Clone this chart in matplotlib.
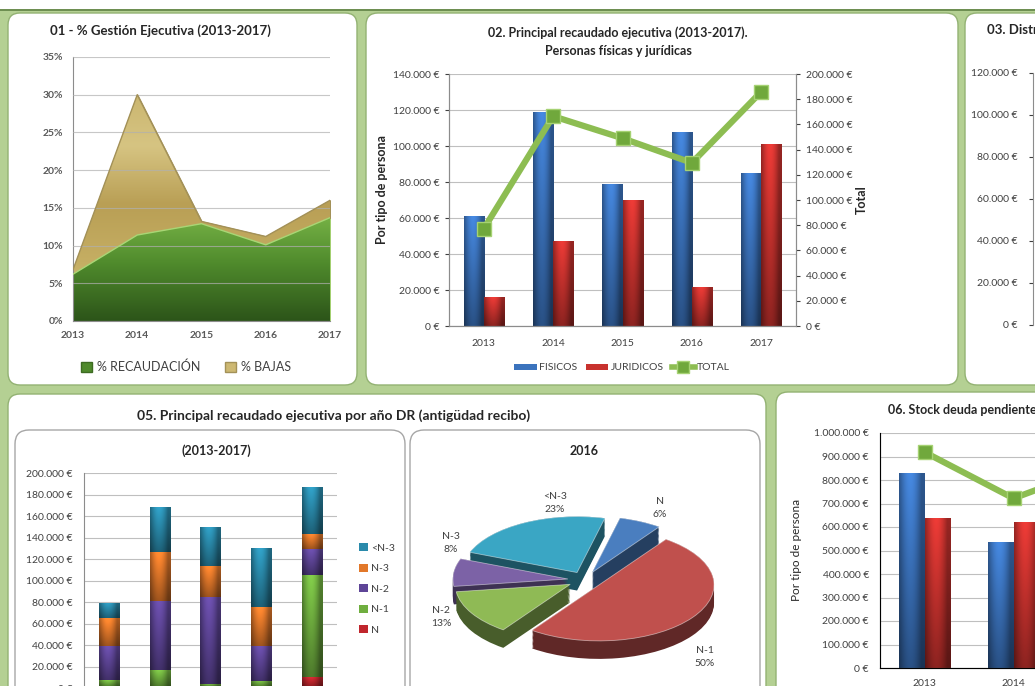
import numpy as np
import matplotlib
matplotlib.use("Agg")
import matplotlib.pyplot as plt
import matplotlib.colors as mcolors
from matplotlib.patches import FancyBboxPatch, Rectangle, Patch
from matplotlib.lines import Line2D
from matplotlib.transforms import IdentityTransform

plt.rcParams['font.family'] = ['Lato', 'DejaVu Sans']

# ---------------- data ----------------
years = ['2013', '2014', '2015', '2016', '2017']

# 01 - % Gestión Ejecutiva
pct_recaudacion = [6.2, 11.4, 12.9, 10.1, 13.7]
pct_bajas = [0.6, 18.6, 0.3, 1.1, 2.3]

# 02 - Principal recaudado ejecutiva
fisicos = [61000, 119000, 79000, 108000, 85000]
juridicos = [16000, 47500, 70000, 21500, 101000]
total02 = [77000, 166500, 149000, 129500, 186000]

# 05 - Principal recaudado por año DR (stacked)
stack_labels = ['N', 'N-1', 'N-2', 'N-3', '<N-3']
stack_N = [1000, 1000, 500, 500, 10300]
stack_N1 = [6500, 15500, 3600, 6000, 94700]
stack_N2 = [31400, 64700, 80200, 32400, 24000]
stack_N3 = [25800, 45700, 29200, 36700, 14400]
stack_lt3 = [14000, 41400, 36700, 54400, 43600]

# 05 - pie 2016
pie_labels = ['N', 'N-1', 'N-2', 'N-3', '<N-3']
pie_vals = [6, 50, 13, 8, 23]

# 06 - Stock deuda pendiente (visible part)
years06 = ['2013', '2014', '2015']
fisicos06 = [830000, 535000]
juridicos06 = [640000, 620000]
total06 = [1470000, 1155000, 1380000]

# ---------------- layout helpers ----------------
W, H = 1035, 686
fig = plt.figure(figsize=(W / 100, H / 100), dpi=100)
fig.patch.set_facecolor('#b4d093')


def axpx(x0, y0, x1, y1):
    return fig.add_axes([x0 / W, 1 - y1 / H, (x1 - x0) / W, (y1 - y0) / H])


def panel(x0, y0, x1, y1, fc='white', ec='#93b273', lw=1.0, r=12, z=0):
    p = FancyBboxPatch((x0, H - y1), x1 - x0, y1 - y0,
                       boxstyle=f"round,pad=0,rounding_size={r}",
                       transform=IdentityTransform(), fc=fc, ec=ec, lw=lw, zorder=z)
    fig.add_artist(p)


def ftext(x, y, s, **kw):
    return fig.text(x / W, 1 - y / H, s, **kw)


def eur(v):
    return f"{v:,.0f} €".replace(',', '.')


TXT = '#404040'


def shade_bar(ax, rect, color, z=2):
    x0, y0 = rect.get_x(), rect.get_y()
    w, h = rect.get_width(), rect.get_height()
    if h <= 0:
        return
    base = np.array(mcolors.to_rgb(color))
    xs = np.linspace(0, 1, 40)
    hprof = 0.72 + 0.42 * np.sin(np.pi * np.clip(xs * 1.15, 0, 1))
    vprof = np.linspace(0.62, 1.05, 64)
    img = base[None, None, :] * vprof[:, None, None] * hprof[None, :, None]
    img = np.clip(img, 0, 1)
    im = ax.imshow(img, extent=(x0, x0 + w, y0, y0 + h), origin='lower',
                   aspect='auto', zorder=z, interpolation='bilinear')
    im.set_clip_path(rect)


def style_axes(ax, color='#8c8c8c'):
    for s in ax.spines.values():
        s.set_color(color)
        s.set_linewidth(0.8)


# ---------------- background / panels ----------------
fig.add_artist(Rectangle((0, H - 9), W, 9, transform=IdentityTransform(), fc='white', ec='none'))
fig.add_artist(Rectangle((0, H - 10.5), W, 1.5, transform=IdentityTransform(), fc='#6e8f52', ec='none'))

panel(8, 13, 357, 385)
panel(366, 13, 958, 385)
panel(965, 13, 1060, 385)
panel(8, 394, 766, 710)
panel(776, 392, 1060, 710)
panel(15, 430, 405, 710, ec='#a6a6a6', r=14, z=1)
panel(410, 430, 760, 710, ec='#a6a6a6', r=14, z=1)

# ---------------- 01 area chart ----------------
ax1 = axpx(73, 57, 330, 321)
x = np.arange(len(years))
rec = np.array(pct_recaudacion)
baj = np.array(pct_bajas)
c_rec = ax1.fill_between(x, 0, rec, fc='#5f9d35', ec='#a3d070', lw=1.0, zorder=2)
c_baj = ax1.fill_between(x, rec, rec + baj, fc='#cdb872', ec='#a39158', lw=1.0, zorder=2)

cm_g = mcolors.LinearSegmentedColormap.from_list('g', ['#2c5419', '#4f8a2c', '#7db94a'])
cm_t = mcolors.LinearSegmentedColormap.from_list('t', ['#d9ca8e', '#c5ae63', '#b99f55', '#d6c482', '#c9b46d'])
g = np.linspace(0, 1, 256).reshape(-1, 1)
im = ax1.imshow(g, cmap=cm_g, extent=(0, 4, 0, 15), origin='lower', aspect='auto', zorder=2.1)
im.set_clip_path(c_rec.get_paths()[0], ax1.transData)
im = ax1.imshow(g, cmap=cm_t, extent=(0, 4, 0, 31), origin='lower', aspect='auto', zorder=2.1)
im.set_clip_path(c_baj.get_paths()[0], ax1.transData)
ax1.plot(x, rec + baj, color='#a39158', lw=1.0, zorder=3)
ax1.plot(x, rec, color='#a8d675', lw=1.0, zorder=3)

ax1.set_xlim(0, 4)
ax1.set_ylim(0, 35)
ax1.set_yticks(np.arange(0, 36, 5))
ax1.set_yticklabels([f"{v}%" for v in range(0, 36, 5)])
ax1.set_xticks(x)
ax1.set_xticklabels(years)
ax1.tick_params(length=0, labelsize=7.5, colors='#595959', pad=7)
for lab in ax1.get_xticklabels() + ax1.get_yticklabels():
    lab.set_fontweight('bold')
ax1.grid(axis='y', color='#b0b0b0', lw=0.8, alpha=0.7, zorder=4)
ax1.set_axisbelow(False)
style_axes(ax1)
ax1.spines['top'].set_visible(False)
ax1.spines['right'].set_visible(False)
ftext(160, 31, '01 - % Gestión Ejecutiva (2013-2017)', ha='center', va='center',
      fontsize=9.5, fontweight='bold', color='#262626')
fig.legend([Patch(fc='#4f8a2c', ec='#3d6b22'), Patch(fc='#cdb872', ec='#a39158')],
           ['% RECAUDACIÓN', '% BAJAS'], loc='center', bbox_to_anchor=(186 / W, 1 - 367 / H),
           ncol=2, frameon=False, fontsize=9, handlelength=0.9, handleheight=0.9,
           columnspacing=2.0, handletextpad=0.4, labelcolor=TXT)

# ---------------- 02 bars + line ----------------
ax2 = axpx(449, 74, 796, 326)
bw = 0.29
b1 = ax2.bar(x - 0.145, fisicos, bw, color='#3b73bd', zorder=2)
b2 = ax2.bar(x + 0.145, juridicos, bw, color='#c8322e', zorder=2)
for r in b1:
    shade_bar(ax2, r, '#3b73bd')
for r in b2:
    shade_bar(ax2, r, '#c8322e')
ax2.set_xlim(-0.5, 4.5)
ax2.set_ylim(0, 140000)
t2 = np.arange(0, 140001, 20000)
ax2.set_yticks(t2)
ax2.set_yticklabels([eur(v) for v in t2])
ax2.set_xticks(x)
ax2.set_xticklabels(years)
ax2.tick_params(axis='y', length=3, labelsize=7.5, colors=TXT, pad=4)
ax2.tick_params(axis='x', length=0, labelsize=7.5, colors=TXT, pad=9)
ax2.grid(axis='y', color='#bfbfbf', lw=0.8, zorder=0)
ax2.set_axisbelow(True)
style_axes(ax2)
ax2.spines['top'].set_visible(False)
ax2r = ax2.twinx()
ln, = ax2r.plot(x, total02, color='#8dbd52', lw=4.5, marker='s', ms=10,
                mfc='#70a83c', mec='#a6d273', mew=1.0, zorder=5)
ax2r.set_ylim(0, 200000)
t2r = np.arange(0, 200001, 20000)
ax2r.set_yticks(t2r)
ax2r.set_yticklabels([eur(v) for v in t2r])
ax2r.tick_params(axis='y', length=3, labelsize=7.5, colors=TXT, pad=4)
style_axes(ax2r)
ax2r.spines['top'].set_visible(False)
ftext(618, 33, '02. Principal recaudado ejecutiva (2013-2017).', ha='center', va='center',
      fontsize=9, fontweight='bold', color='#262626')
ftext(618, 51, 'Personas físicas y jurídicas', ha='center', va='center',
      fontsize=9, fontweight='bold', color='#262626')
ftext(382, 190, 'Por tipo de persona', rotation=90, ha='center', va='center',
      fontsize=9, fontweight='bold', color='#262626')
ftext(862, 200, 'Total', rotation=90, ha='center', va='center',
      fontsize=9, fontweight='bold', color='#262626')
fig.legend([Patch(fc='#3b73bd'), Patch(fc='#c8322e'),
            Line2D([], [], color='#8dbd52', lw=4, marker='s', ms=8, mfc='#70a83c', mec='#a6d273')],
           ['FISICOS', 'JURIDICOS', 'TOTAL'], loc='center', bbox_to_anchor=(622 / W, 1 - 368 / H),
           ncol=3, frameon=False, fontsize=7.5, handlelength=2.2, handleheight=0.6,
           columnspacing=0.8, handletextpad=0.2, labelcolor=TXT)

# ---------------- 03 partial ----------------
ax3 = axpx(1033, 73, 1400, 325)
ax3.set_ylim(0, 120000)
t3 = np.arange(0, 120001, 20000)
ax3.set_yticks(t3)
ax3.set_yticklabels([eur(v) for v in t3])
ax3.set_xticks([])
ax3.tick_params(axis='y', length=3, labelsize=7.5, colors=TXT, pad=8)
style_axes(ax3)
for s in ['top', 'right', 'bottom']:
    ax3.spines[s].set_visible(False)
ftext(987, 30, '03. Distribución', ha='left', va='center', fontsize=9.5, fontweight='bold', color='#262626')

# ---------------- 05 stacked bars ----------------
ftext(334, 416, '05. Principal recaudado ejecutiva por año DR (antigüdad recibo)', ha='center',
      va='center', fontsize=10, fontweight='bold', color='#262626', zorder=3)
ftext(216, 451, '(2013-2017)', ha='center', va='center', fontsize=9, fontweight='bold',
      color='#262626', zorder=3)
ax5 = axpx(84, 473, 337, 688)
ax5.set_zorder(3)
stack_series = [stack_N, stack_N1, stack_N2, stack_N3, stack_lt3]
stack_colors = ['#c0262d', '#6fae3f', '#5e4597', '#e2782a', '#2a8aab']
bottom = np.zeros(len(years))
handles5 = []
for vals, col, lab in zip(stack_series, stack_colors, stack_labels):
    bars = ax5.bar(x, vals, 0.4, bottom=bottom, color=col, zorder=2, label=lab)
    for r in bars:
        shade_bar(ax5, r, col)
    bottom = bottom + np.array(vals)
    handles5.append(Patch(fc=col))
ax5.set_xlim(-0.5, 4.5)
ax5.set_ylim(0, 200000)
t5 = np.arange(0, 200001, 20000)
ax5.set_yticks(t5)
ax5.set_yticklabels([eur(v) for v in t5])
ax5.set_xticks([])
ax5.tick_params(axis='y', length=0, labelsize=7.5, colors=TXT, pad=8)
ax5.grid(axis='y', color='#bfbfbf', lw=0.8, zorder=0)
ax5.set_axisbelow(True)
style_axes(ax5)
ax5.spines['top'].set_visible(False)
ax5.spines['right'].set_visible(False)
leg5 = fig.legend(handles5[::-1], stack_labels[::-1], loc='center left',
                  bbox_to_anchor=(350 / W, 1 - 589 / H), frameon=False, fontsize=7.5,
                  handlelength=0.8, handleheight=0.8, labelspacing=1.05, handletextpad=0.3,
                  labelcolor=TXT)
leg5.set_zorder(4)

# ---------------- 05 pie 2016 ----------------
ftext(584, 451, '2016', ha='center', va='center', fontsize=9, fontweight='bold',
      color='#262626', zorder=3)
cx, cy, rx, ry = 585, 580, 115, 56
axp = axpx(cx - 1.5 * rx, cy - 2 * ry, cx + 1.5 * rx, cy + 2 * ry)
axp.set_zorder(3)
pie_colors = ['#4a7ebf', '#c0504d', '#8fba55', '#7c62a6', '#3aa6c4']
dark_colors = [tuple(np.array(mcolors.to_rgb(c)) * 0.5) for c in pie_colors]
depth = 18 / ry
explode = [0.15] * len(pie_vals)
for d in np.linspace(depth, 0.0, 16):
    axp.pie(pie_vals, colors=dark_colors, startangle=76, counterclock=False,
            explode=explode, center=(0, -d), wedgeprops=dict(lw=0))
axp.pie(pie_vals, colors=pie_colors, startangle=76, counterclock=False,
        explode=explode, center=(0, 0), wedgeprops=dict(lw=0.6, ec='#ffffff80'))
axp.set_aspect('auto')
axp.set_xlim(-1.5, 1.5)
axp.set_ylim(-2, 2)
pie_label_pos = [(0.65, 1.29), (1.04, -1.375), (-1.25, -0.66), (-1.17, 0.66), (-0.26, 1.375)]
for lab, v, (px, py) in zip(pie_labels, pie_vals, pie_label_pos):
    axp.text(px, py, f"{lab}\n{v}%", ha='center', va='center', fontsize=7.5, color=TXT,
             linespacing=1.5)

# ---------------- 06 partial ----------------
ax6 = axpx(880, 433, 1325, 668)
x6 = np.arange(len(fisicos06))
b61 = ax6.bar(x6 - 0.146, fisicos06, 0.29, color='#3b73bd', zorder=2)
b62 = ax6.bar(x6 + 0.146, juridicos06, 0.29, color='#c8322e', zorder=2)
for r in b61:
    shade_bar(ax6, r, '#3b73bd')
for r in b62:
    shade_bar(ax6, r, '#c8322e')
ax6.set_xlim(-0.5, 4.5)
ax6.set_ylim(0, 1000000)
t6 = np.arange(0, 1000001, 100000)
ax6.set_yticks(t6)
ax6.set_yticklabels([eur(v) for v in t6])
ax6.set_xticks(np.arange(len(years06)))
ax6.set_xticklabels(years06)
ax6.tick_params(axis='y', length=0, labelsize=7.5, colors=TXT, pad=8)
ax6.tick_params(axis='x', length=0, labelsize=7.5, colors=TXT, pad=8)
ax6.grid(axis='y', color='#bfbfbf', lw=0.8, zorder=0)
ax6.set_axisbelow(True)
style_axes(ax6)
ax6.spines['top'].set_visible(False)
ax6r = ax6.twinx()
ax6r.plot(np.arange(len(total06)), total06, color='#8dbd52', lw=4.5, marker='s', ms=10,
          mfc='#70a83c', mec='#a6d273', mew=1.0, zorder=5)
ax6r.set_ylim(0, 1600000)
ax6r.set_yticks([])
ax6r.spines['top'].set_visible(False)
ftext(888, 410, '06. Stock deuda pendiente', ha='left', va='center', fontsize=9,
      fontweight='bold', color='#262626')
ftext(797, 550, 'Por tipo de persona', rotation=90, ha='center', va='center',
      fontsize=8.5, color='#262626')

fig.savefig('out.png', dpi=100, facecolor=fig.get_facecolor())
